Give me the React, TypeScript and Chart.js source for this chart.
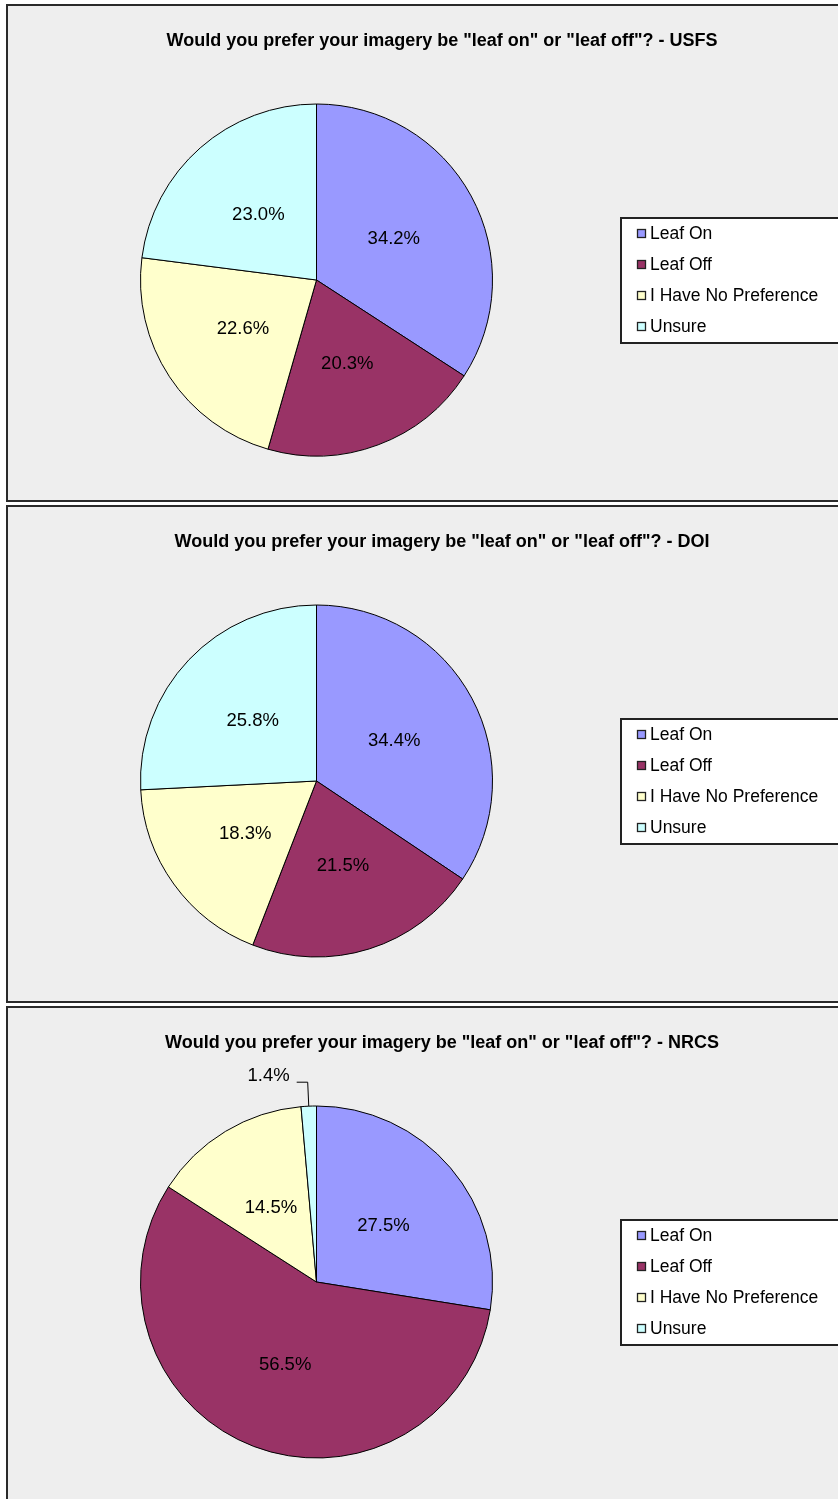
import React, { useEffect, useRef } from "react";
import { Chart, registerables } from "chart.js";

Chart.register(...registerables);

const categories = ["Leaf On", "Leaf Off", "I Have No Preference", "Unsure"];
const sliceColors = ["#9999FF", "#993366", "#FFFFCC", "#CCFFFF"];

const usfsValues = [34.2, 20.3, 22.6, 23.0];
const doiValues = [34.4, 21.5, 18.3, 25.8];
const nrcsValues = [27.5, 56.5, 14.5, 1.4];

const titleUSFS = 'Would you prefer your imagery be "leaf on" or "leaf off"? - USFS';
const titleDOI = 'Would you prefer your imagery be "leaf on" or "leaf off"? - DOI';
const titleNRCS = 'Would you prefer your imagery be "leaf on" or "leaf off"? - NRCS';

const CANVAS_W = 868;
const CANVAS_H = 494;
const FONT = "'Liberation Sans', Arial, Helvetica, sans-serif";

const overlayPlugin = {
  id: "overlay",
  afterDraw(chart: any) {
    const ctx = chart.ctx as CanvasRenderingContext2D;
    const opts = chart.options.plugins.overlay;
    const values: number[] = chart.data.datasets[0].data;
    ctx.save();
    // title
    ctx.fillStyle = "#000";
    ctx.font = `bold 18px ${FONT}`;
    ctx.textAlign = "center";
    ctx.textBaseline = "middle";
    ctx.fillText(opts.title, CANVAS_W / 2, 35.5);

    // data labels
    ctx.font = `18.5px ${FONT}`;
    const meta = chart.getDatasetMeta(0);
    meta.data.forEach((arc: any, i: number) => {
      const p = arc.getProps(["x", "y", "startAngle", "endAngle", "outerRadius"], true);
      const mid = (p.startAngle + p.endAngle) / 2;
      const txt = values[i].toFixed(1) + "%";
      if (values[i] >= 3) {
        const r = p.outerRadius * 0.5;
        ctx.textAlign = "center";
        ctx.textBaseline = "middle";
        ctx.fillStyle = "#000";
        ctx.fillText(txt, p.x + Math.cos(mid) * r, p.y + Math.sin(mid) * r + 1);
      } else {
        const ax = p.x + Math.cos(mid) * p.outerRadius;
        const ay = p.y + Math.sin(mid) * p.outerRadius;
        const ex = p.x + Math.cos(mid) * (p.outerRadius + 24);
        const ey = p.y + Math.sin(mid) * (p.outerRadius + 24);
        ctx.strokeStyle = "#000";
        ctx.lineWidth = 1;
        ctx.beginPath();
        ctx.moveTo(ax, ay);
        ctx.lineTo(ex, ey);
        ctx.lineTo(ex - 11, ey);
        ctx.stroke();
        ctx.textAlign = "right";
        ctx.textBaseline = "middle";
        ctx.fillStyle = "#000";
        ctx.fillText(txt, ex - 18, ey - 6);
      }
    });

    // legend
    const lx = 613;
    const ly = 212;
    ctx.fillStyle = "#FFFFFF";
    ctx.fillRect(lx, ly, 300, 125);
    ctx.strokeStyle = "#222";
    ctx.lineWidth = 2;
    ctx.strokeRect(lx, ly, 300, 125);
    ctx.font = `17.5px ${FONT}`;
    ctx.textAlign = "left";
    ctx.textBaseline = "middle";
    categories.forEach((c, i) => {
      const cy = 228 + i * 31;
      ctx.fillStyle = sliceColors[i];
      ctx.fillRect(629.5, cy - 4.5, 8, 8);
      ctx.strokeStyle = "#222";
      ctx.lineWidth = 1.3;
      ctx.strokeRect(629.5, cy - 4.5, 8, 8);
      ctx.fillStyle = "#000";
      ctx.fillText(c, 642, cy);
    });
    ctx.restore();
  },
};

function PiePanel({ title, values, top }: { title: string; values: number[]; top: number }) {
  const ref = useRef<HTMLCanvasElement | null>(null);
  useEffect(() => {
    if (!ref.current) return;
    const chart = new Chart(ref.current, {
      type: "pie",
      data: {
        labels: categories,
        datasets: [
          {
            data: values,
            backgroundColor: sliceColors,
            borderColor: "#000",
            borderWidth: 1,
            radius: 176,
          } as any,
        ],
      },
      options: {
        animation: false,
        responsive: false,
        maintainAspectRatio: false,
        events: [],
        layout: { padding: { left: 131.5, right: 382.5, top: 97, bottom: 43 } },
        plugins: {
          legend: { display: false },
          tooltip: { enabled: false },
          title: { display: false },
          overlay: { title },
        } as any,
      },
      plugins: [overlayPlugin],
    });
    return () => chart.destroy();
  }, [title, values]);
  return (
    <div
      style={{
        position: "absolute",
        left: 6,
        top,
        width: 872,
        height: 498,
        boxSizing: "border-box",
        border: "2px solid #2a2a2a",
        background: "#EEEEEE",
      }}
    >
      <canvas
        ref={ref}
        width={CANVAS_W}
        height={CANVAS_H}
        style={{ display: "block", width: CANVAS_W, height: CANVAS_H }}
      />
    </div>
  );
}

export default function App() {
  return (
    <div
      style={{
        position: "absolute",
        left: 0,
        top: 0,
        width: 838,
        height: 1499,
        overflow: "hidden",
        background: "#fff",
      }}
    >
      <PiePanel title={titleUSFS} values={usfsValues} top={4} />
      <PiePanel title={titleDOI} values={doiValues} top={505} />
      <PiePanel title={titleNRCS} values={nrcsValues} top={1006} />
    </div>
  );
}
